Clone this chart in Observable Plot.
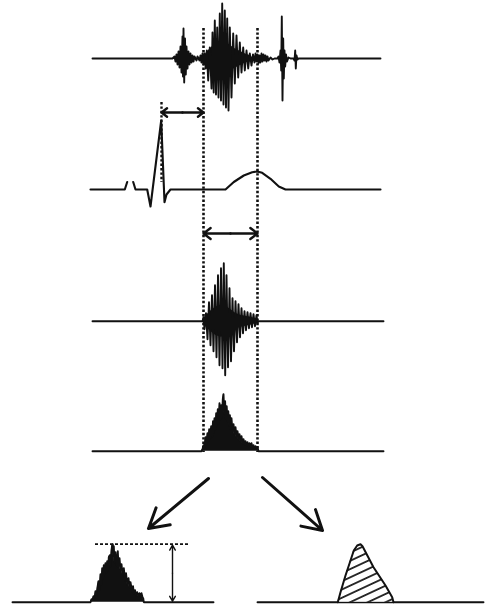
<!DOCTYPE html>
<html>
<head>
<meta charset="utf-8">
<script src="https://cdn.jsdelivr.net/npm/d3@7"></script>
<script src="https://cdn.jsdelivr.net/npm/@observablehq/plot@0.6"></script>
<style>
  html, body { margin: 0; padding: 0; background: #fff; }
  #chart svg { display: block; background: #fff; }
</style>
</head>
<body>
<div id="chart"></div>
<script>
// Baselines (vertical level of each trace, in drawing units, growing downward)
const baseLevels = { pcg: 58, ecg: 189, filtered: 320.7, envelope: 450.7, result: 601.7 };

// Phonocardiogram: [time, amplitude]
const pcgTrace = [
  [92,0],[172,0],[174,2],[175,-3],[176,4],[177,-6],[178,7],[179,-9],[180,12],[181,-14],[182,22],[182.5,-18],
  [183,30],[183.7,-24],[184.5,20],[185.3,-16],[186,12],[187,-10],[188,7],[189,-6],[190,5],[191,-4],[192,3],
  [193,-3],[194,2],[196,-2],[197,2],[199,-2],[200,3],[201,-4],[202,5],[203,-6],
  [204,5],[205.2,-10],[206.3,8],[207.7,-22],[209.3,11],[211,-30],[212,26],[213.2,-34],[214.3,38],[215.5,-36],
  [216.7,31],[218,-39],[219.3,45],[220.5,-42],[221.7,55],[223,-46],[224.3,48],[225.5,-49],[226.7,40],[228,-52],
  [229.3,31],[231,-39],[232.7,25],[234.3,-25],[236,23],[237.7,-19],[239.3,16],[241,-14],[242.7,11],[244.3,-12],
  [246,8],[247.7,-10],[249.3,5],[251,-7],[252.5,4],
  [254,-4],[255,5],[256,-3],[257,4],[258,-5],[259,3],[260,-4],[261,5],[262,-3],[263,4],[264,-2],[265,3],
  [266,-3],[267,2],[268,-2],[270,1],[272,-1],[274,0],
  [277,0],[278,2],[279,-4],[280,8],[280.7,-12],[281.3,42],[282,-42],[282.7,20],[283.3,-20],[284,8],[284.7,-8],
  [285.5,4],[286.5,-3],[288,1],[290,0],
  [293,0],[294,-2],[294.7,8],[295.3,-10],[296,3],[297,-1],[298,0],[380,0]
];
// Solid dark core of the main PCG burst: [time, half-width]
const pcgCore = [[203,0],[206,6],[210,10],[214,14],[218,16],[222,17],[226,16],[230,13],[234,10],[238,8],[242,6],[246,4],[250,3],[253,0]];

// ECG: [time, amplitude] (null marks the small break in the P wave)
const ecgTrace = [
  [90,0],[124.3,0],[126.7,7.5],[129.7,null],[132.7,7.5],[135,0],[146.7,0],[150,-17],[160.7,69],[164,-12.7],
  [166,-5],[170,0],[225,0],[233.3,7.5],[243.3,14],[251.7,17.3],[256.7,18],[261.7,16.7],[270,10.7],[278.3,3],
  [285,0],[380,0]
];

// Filtered murmur signal: [time, amplitude]
const filteredTrace = [
  [92,0],[202,0],[203,4],[204,-8],[205.5,8],[207,-18],[208.5,19],[210,-24],[211.5,26],[213,-30],[214.5,36],
  [216,-36],[217.5,46],[219,-44],[220.5,53],[222,-47],[223.3,58],[224.7,-54],[226,46],[227.5,-46],[229,33],
  [230.5,-40],[232,23],[233.5,-30],[235,20],[236.5,-21],[238,17],[239.5,-16],[241,13],[242.5,-12],[244,10],
  [245.5,-9],[247,9],[248.5,-7],[250,8],[251.5,-6],[253,7],[254.5,-5],[256,6],[257,-2],[258,0],[383,0]
];
const filteredCore = [[202,0],[205,5],[210,10],[215,14],[220,16],[225,15],[230,12],[235,8],[240,6],[245,5],[250,4],[257,2],[258,0]];

// Rectified envelope: [time, amplitude]
const envelopeTrace = [
  [92,0],[201,0],[202,2],[203,6],[204,3],[205,14],[206,7],[207,18],[208,10],[208.7,22],[209.7,13],[210.7,25],
  [211.7,15],[212.5,30],[213.3,19],[214,33],[215,22],[215.7,38],[216.5,26],[217.3,42],[218.2,28],[219,48],
  [219.8,32],[220.7,46],[221.5,34],[222.3,52],[223,57],[223.8,38],[224.6,50],[225.4,32],[226.2,45],[227,30],
  [227.8,40],[228.6,26],[229.4,36],[230.2,22],[231,33],[232,20],[233,27],[234,17],[235,24],[236,14],[237,20],
  [238,12],[239,17],[240,10],[241,15],[242,8],[243,12],[244,7],[245,10],[246,6],[247,9],[248,5],[249,8],
  [250,5],[251,8],[252,4],[253,6],[254,3],[255,5],[256,3],[257,4],[258,0],[383,0]
];

// Bottom-left: peak amplitude measurement
const peakTrace = [
  [12,0],[90,0],[91,3],[92,2],[93,6],[94,3],[95,11],[96,6],[97,15],[98,21],[99,12],[100,28],[101,18],
  [101.7,34],[102.5,24],[103.3,37],[104,28],[105,39],[106,30],[106.7,41],[107.5,32],[108.3,45],[109.3,47],
  [110,36],[111,52],[111.7,57],[112.3,58],[113,46],[113.3,56],[114,40],[115,50],[115.7,42],[116.5,36],
  [117.3,51],[118,36],[119,44],[120,32],[121,38],[122,28],[123.3,34],[124.5,22],[125.5,29],[126.7,18],
  [128,24],[129,15],[130,20],[131.5,11],[132.5,16],[133.3,9],[134.5,12],[135.5,7],[136.7,10],[138,6],
  [139,9],[140,6],[141,9],[142,5],[142.7,4],[143.3,0],[213,0]
];

// Bottom-right: integrated area (hatched)
const areaBaseline = [[257,0],[483,0]];
const areaShape = [
  [337.3,0],[340,10],[345,26.7],[350,41.7],[353.3,51.7],[356.7,56.7],[360,58],[362,56],[373,35],
  [385,16.7],[391.7,5],[393,0]
];

// Annotations
const timeMarkers = [203, 257];                  // dotted verticals (onset / end of murmur)
const rPeakMarker = { t: 161, from: 102, to: 182 };
const intervals = [
  { t1: 161, t2: 203, level: 112 },
  { t1: 203, t2: 257, level: 233 }
];
const splitArrows = [
  { t1: 208, y1: 478, t2: 148, y2: 528 },
  { t1: 262, y1: 477, t2: 322, y2: 530 }
];
const peakLevel = { t1: 95, t2: 190, amp: 58, at: 172 };

const toPts = (arr, base) => arr.map(([t, a]) => ({ t, y: a == null ? NaN : base - a }));
const band = (arr, base) => arr.map(([t, a]) => ({ t, y1: base + a, y2: base - a }));

const pcg = toPts(pcgTrace, baseLevels.pcg);
const ecg = toPts(ecgTrace, baseLevels.ecg);
const filt = toPts(filteredTrace, baseLevels.filtered);
const env = envelopeTrace.map(([t, a]) => ({ t, y1: baseLevels.envelope, y2: baseLevels.envelope - a }));
const peak = peakTrace.map(([t, a]) => ({ t, y1: baseLevels.result, y2: baseLevels.result - a }));
const areaPts = areaShape.map(([t, a]) => ({ t, y1: baseLevels.result, y2: baseLevels.result - a }));
const areaBase = toPts(areaBaseline, baseLevels.result);

const halfArrows = intervals.flatMap(d => {
  const m = (d.t1 + d.t2) / 2;
  return [{ x1: m, x2: d.t1, y: d.level }, { x1: m, x2: d.t2, y: d.level }];
});
const peakY = baseLevels.result - peakLevel.amp;
const vArrows = [
  { y1: (peakY + baseLevels.result) / 2, y2: peakY + 1 },
  { y1: (peakY + baseLevels.result) / 2, y2: baseLevels.result - 1 }
];

const svg = Plot.plot({
  width: 487,
  height: 607,
  margin: 0,
  x: { domain: [0, 487], range: [0, 487], axis: null },
  y: { domain: [0, 607], range: [0, 607], axis: null },
  marks: [
    // dotted verticals
    Plot.ruleX(timeMarkers, { x: d => d, y1: 28, y2: 452, stroke: "#111", strokeWidth: 2.6, strokeDasharray: "2.4,2" }),
    Plot.ruleX([rPeakMarker], { x: "t", y1: "from", y2: "to", stroke: "#111", strokeWidth: 2.4, strokeDasharray: "2.4,2" }),
    // traces
    Plot.areaY(band(pcgCore, baseLevels.pcg), { x: "t", y1: "y1", y2: "y2", fill: "#111" }),
    Plot.line(pcg, { x: "t", y: "y", stroke: "#111", strokeWidth: 1.9 }),
    Plot.line(ecg, { x: "t", y: "y", stroke: "#111", strokeWidth: 2.1 }),
    Plot.areaY(band(filteredCore, baseLevels.filtered), { x: "t", y1: "y1", y2: "y2", fill: "#111" }),
    Plot.line(filt, { x: "t", y: "y", stroke: "#111", strokeWidth: 1.9 }),
    Plot.areaY(env, { x: "t", y1: "y1", y2: "y2", fill: "#111" }),
    Plot.line(env, { x: "t", y: "y2", stroke: "#111", strokeWidth: 1.9 }),
    Plot.areaY(peak, { x: "t", y1: "y1", y2: "y2", fill: "#111" }),
    Plot.line(peak, { x: "t", y: "y2", stroke: "#111", strokeWidth: 1.9 }),
    Plot.line(areaBase, { x: "t", y: "y", stroke: "#111", strokeWidth: 1.9 }),
    Plot.areaY(areaPts, { x: "t", y1: "y1", y2: "y2", fill: "url(#hatch)" }),
    Plot.line(areaPts, { x: "t", y: "y2", stroke: "#111", strokeWidth: 2 }),
    // interval arrows
    Plot.arrow(halfArrows, { x1: "x1", x2: "x2", y1: "y", y2: "y", stroke: "#111", strokeWidth: 2.4, headLength: 7, headAngle: 75 }),
    // split arrows
    Plot.arrow(splitArrows, { x1: "t1", y1: "y1", x2: "t2", y2: "y2", stroke: "#111", strokeWidth: 3, headLength: 11, headAngle: 60 }),
    // peak amplitude annotation
    Plot.ruleY([peakLevel], { y: d => baseLevels.result - d.amp, x1: "t1", x2: "t2", stroke: "#111", strokeWidth: 1.8, strokeDasharray: "3,2" }),
    Plot.arrow(vArrows, { x: peakLevel.at, y1: "y1", y2: "y2", stroke: "#111", strokeWidth: 1.4, headLength: 6, headAngle: 60 })
  ]
});

const ns = "http://www.w3.org/2000/svg";
const defs = document.createElementNS(ns, "defs");
defs.innerHTML = '<pattern id="hatch" patternUnits="userSpaceOnUse" width="10" height="7.5" patternTransform="rotate(-25)">' +
  '<rect width="10" height="7.5" fill="#fff"/><line x1="0" y1="3.75" x2="10" y2="3.75" stroke="#111" stroke-width="1.7"/></pattern>';
svg.insertBefore(defs, svg.firstChild);
document.getElementById("chart").appendChild(svg);
</script>
</body>
</html>
